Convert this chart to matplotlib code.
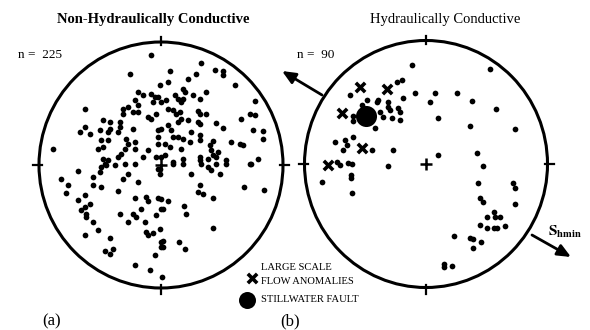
import matplotlib
matplotlib.use("Agg")
import matplotlib.pyplot as plt
from matplotlib.patches import Ellipse
import numpy as np

plt.rcParams['mathtext.fontset'] = 'stix'

# ---- data: pole positions (image pixel coordinates) ----
left_x = [151,130,160,138,143,151,155,135,138,128,133,138,153,156,123,123,85,103,110,120,120,118,133,85,80,90,100,108,110,101,108,98,103,126,128,125,121,118,135,135,148,143,158,158,156,161,103,108,105,151,148,53,158,
          201,170,196,215,223,223,235,168,188,183,185,206,175,178,181,183,193,200,158,161,166,255,168,173,176,180,181,178,198,200,206,188,198,200,216,250,255,241,223,253,263,191,168,171,161,200,200,173,178,183,213,210,211,213,208,216,231,243,263,190,181,165,170,200,200,183,173,226,250,258,165,218,240,
          78,61,68,66,93,100,101,106,115,125,135,93,101,123,128,138,118,85,78,90,85,86,86,81,135,146,148,158,161,141,120,133,136,156,128,145,93,98,146,148,153,85,110,161,161,105,110,113,155,135,150,162,158,
          173,183,201,208,211,216,226,220,251,191,160,160,200,198,203,213,244,264,168,161,163,184,186,213,160,163,163,179,185]
left_y = [55,74,85,92,95,94,97,100,105,107,112,112,102,114,109,114,109,120,122,122,127,132,129,127,132,134,130,132,129,140,140,149,147,139,144,149,154,157,142,149,150,157,137,144,157,157,159,160,164,119,117,149,130,
          63,71,74,70,71,75,85,82,79,89,92,92,95,99,102,99,95,99,97,102,100,101,109,110,114,112,119,122,111,114,114,120,122,124,123,114,115,119,128,130,131,132,125,130,129,135,140,137,137,139,141,145,150,155,159,157,142,145,139,142,149,144,147,157,160,159,162,160,164,159,155,152,144,
          171,179,185,193,177,172,167,165,165,164,164,185,187,179,174,182,191,195,200,204,207,214,217,210,198,197,201,198,209,209,214,214,217,215,222,222,222,230,232,235,233,235,238,242,247,251,254,249,255,265,270,277,169,
          164,164,164,167,170,164,164,174,164,174,169,174,185,192,194,198,187,190,201,199,209,206,214,228,229,241,247,242,249]

right_x = [412,397,402,415,403,350,377,388,388,390,362,380,383,398,400,392,400,353,353,375,353,335,345,347,343,372,393,337,340,348,352,388,367,378,
           490,435,457,430,472,496,438,470,515,438,477,483,
           478,513,515,480,483,515,494,487,495,500,480,487,494,497,505,454,470,473,481,473,444,444,452,
           322,351,351,352]
right_y = [65,82,80,93,98,95,102,102,107,110,105,112,117,108,112,118,120,116,121,128,137,142,140,145,150,150,150,162,165,163,164,166,100,100,
           69,93,93,102,101,109,118,126,129,155,153,166,
           183,183,188,198,202,204,212,217,217,217,225,228,228,228,226,236,238,239,242,248,264,267,266,
           182,175,178,193]

anomaly_x = [360,387,342,362,328]
anomaly_y = [87,89,113,148,165]
fault_x = [366]
fault_y = [116]

titles = ["Non-Hydraulically Conductive", "Hydraulically Conductive"]
counts = ["n =  225", "n =  90"]
panel_labels = ["(a)", "(b)"]
legend_lines = ["LARGE SCALE", "FLOW ANOMALIES", "STILLWATER FAULT"]

# ---- layout (pixel space of the 590x330 figure) ----
centers = [(161, 165), (426, 164)]
radii = [(122, 123), (121.5, 123.5)]

fig = plt.figure(figsize=(5.9, 3.3), dpi=100)
ax = fig.add_axes([0, 0, 1, 1])
ax.set_xlim(0, 590)
ax.set_ylim(330, 0)
ax.axis('off')

for (cx, cy), (rx, ry) in zip(centers, radii):
    ax.add_patch(Ellipse((cx, cy), 2 * rx, 2 * ry, fill=False, lw=2.2, ec='black'))
    # ticks at N, S, E, W
    ax.plot([cx, cx], [cy - ry - 5, cy - ry + 3], color='black', lw=1.6)
    ax.plot([cx, cx], [cy + ry - 3, cy + ry + 6], color='black', lw=1.6)
    ax.plot([cx - rx - 6, cx - rx + 3], [cy, cy], color='black', lw=1.6)
    ax.plot([cx + rx - 3, cx + rx + 6], [cy, cy], color='black', lw=1.6)
    # centre cross
    ax.plot(cx, cy, marker='+', ms=8, mew=1.8, color='black')

ax.scatter(left_x, left_y, s=17, color='black', lw=0)
ax.scatter(right_x, right_y, s=17, color='black', lw=0)
ax.scatter(anomaly_x, anomaly_y, marker='x', s=45, lw=2.6, color='black')
ax.scatter(fault_x, fault_y, s=230, color='black', lw=0)

# titles and labels
ax.text(153, 19, titles[0], ha='center', va='center', fontsize=10.5,
        family='Liberation Serif', fontweight='bold')
ax.text(445, 19, titles[1], ha='center', va='center', fontsize=10.5,
        family='Liberation Serif')
ax.text(18, 55, counts[0], ha='left', va='center', fontsize=9.5, family='Liberation Serif')
ax.text(297, 55, counts[1], ha='left', va='center', fontsize=9.5, family='Liberation Serif')
ax.text(52, 321, panel_labels[0], ha='center', va='center', fontsize=12, family='Liberation Serif')
ax.text(290, 321, panel_labels[1], ha='center', va='center', fontsize=12, family='Liberation Serif')

# legend
ax.scatter([252], [278], marker='x', s=45, lw=2.6, color='black')
ax.scatter([247], [300], s=150, color='black', lw=0)
ax.text(261, 268, legend_lines[0], ha='left', va='center', fontsize=7.6,
        family='Liberation Serif')
ax.text(261, 282, legend_lines[1], ha='left', va='center', fontsize=7.6,
        family='Liberation Serif')
ax.text(261, 300, legend_lines[2], ha='left', va='center', fontsize=7.6,
        family='Liberation Serif')

# stress arrows
ax.annotate('', xy=(282, 71), xytext=(322, 95),
            arrowprops=dict(arrowstyle='-|>,head_length=0.8,head_width=0.35',
                            lw=2.0, color='black', shrinkA=0, shrinkB=0))
ax.annotate('', xy=(571, 257), xytext=(532, 235),
            arrowprops=dict(arrowstyle='-|>,head_length=0.8,head_width=0.35',
                            lw=2.0, color='black', shrinkA=0, shrinkB=0))
ax.text(548, 232, r'$\mathbf{S_{hmin}}$', ha='left', va='center', fontsize=11)

fig.savefig('out.png', dpi=100)
